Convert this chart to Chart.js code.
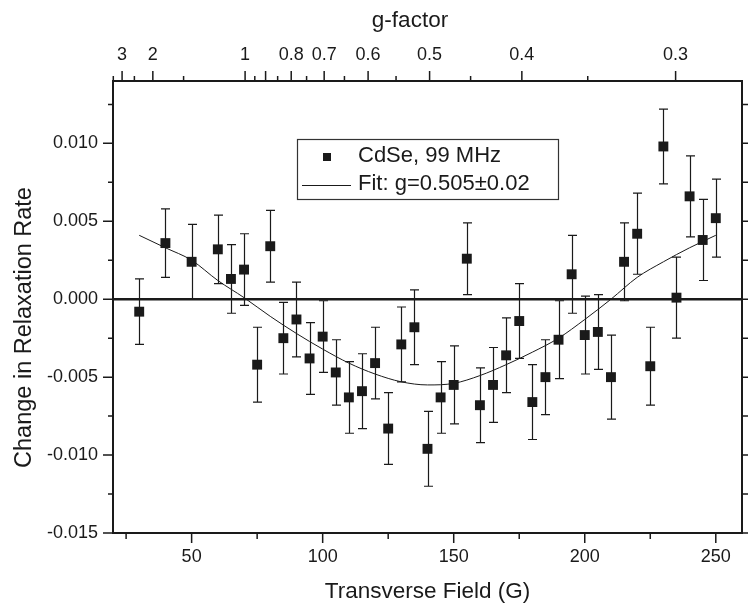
<!DOCTYPE html>
<html>
<head>
<meta charset="utf-8">
<script src="https://cdn.jsdelivr.net/npm/chart.js@4.4.0/dist/chart.umd.min.js"></script>
<style>
  html, body { margin: 0; padding: 0; background: #ffffff; }
  #wrap { width: 750px; height: 605px; }
</style>
</head>
<body>
<div id="wrap"><canvas id="c" width="750" height="605"></canvas></div>
<script>
// ---------------- data ----------------
const fieldG = [30, 40, 50, 60, 65, 70, 75, 80, 85, 90, 95, 100, 105, 110, 115, 120, 125, 130, 135, 140,
                145, 150, 155, 160, 165, 170, 175, 180, 185, 190, 195, 200, 205, 210, 215, 220, 225, 230,
                235, 240, 245, 250];
const rateChange = [-0.0008, 0.0036, 0.0024, 0.0032, 0.0013, 0.0019, -0.0042, 0.0034, -0.0025, -0.0013,
                    -0.0038, -0.0024, -0.0047, -0.0063, -0.0059, -0.0041, -0.0083, -0.0029, -0.0018, -0.0096,
                    -0.0063, -0.0055, 0.0026, -0.0068, -0.0055, -0.0036, -0.0014, -0.0066, -0.0050, -0.0026,
                    0.0016, -0.0023, -0.0021, -0.0050, 0.0024, 0.0042, -0.0043, 0.0098, 0.0001, 0.0066,
                    0.0038, 0.0052];
const rateError = [0.0021, 0.0022, 0.0024, 0.0022, 0.0022, 0.0023, 0.0024, 0.0023, 0.0023, 0.0024,
                   0.0023, 0.0023, 0.0021, 0.0023, 0.0024, 0.0023, 0.0023, 0.0024, 0.0024, 0.0024,
                   0.0023, 0.0025, 0.0023, 0.0024, 0.0024, 0.0024, 0.0024, 0.0024, 0.0024, 0.0025,
                   0.0025, 0.0025, 0.0024, 0.0027, 0.0025, 0.0026, 0.0025, 0.0024, 0.0026, 0.0026,
                   0.0026, 0.0025];
const fitField = [30, 40, 50, 60, 70, 80, 90, 100, 110, 120, 130, 140, 150, 160, 170, 180, 190, 200, 210, 220, 230, 240, 250];
const fitRate = [0.0041, 0.0033, 0.0025, 0.0012, 0.0001, -0.0011, -0.0022, -0.0032, -0.0041, -0.0048, -0.0053, -0.0055,
                 -0.0054, -0.0049, -0.0042, -0.0034, -0.0025, -0.0013, 0.0000, 0.0014, 0.0024, 0.0033, 0.0041];

const fieldTicks = [50, 100, 150, 200, 250];
const fieldMinorTicks = [25, 75, 125, 175, 225];
const rateTicks = [-0.015, -0.010, -0.005, 0.000, 0.005, 0.010];
const rateMinorTicks = [-0.0125, -0.0075, -0.0025, 0.0025, 0.0075, 0.0125];
const gMajorTicks = [3, 2, 1, 0.8, 0.7, 0.6, 0.5, 0.4, 0.3];
const gUnlabeledMajor = [0.9];
const gMinorTicks = [3.5, 2.5, 1.5, 0.95, 0.85, 0.75, 0.65, 0.55, 0.45, 0.35];
const gTimesField = 70.4; // g * B (gauss) for 99 MHz
const legendLabels = ['CdSe, 99 MHz', 'Fit: g=0.505\u00b10.02'];
const xTitle = 'Transverse Field (G)';
const yTitle = 'Change in Relaxation Rate';
const topTitle = 'g-factor';

// ---------------- styling ----------------
const FONT = "'Liberation Sans', Arial, Helvetica, sans-serif";
const INK = '#1a1a1a';
Chart.defaults.font.family = FONT;
Chart.defaults.color = INK;

const gToField = g => gTimesField / g;

const errorBars = {
  id: 'errorBars',
  beforeDatasetsDraw(chart) {
    const { ctx, scales: { x, y } } = chart;
    ctx.save();
    ctx.strokeStyle = INK;
    ctx.lineWidth = 1.2;
    fieldG.forEach((f, i) => {
      const px = Math.round(x.getPixelForValue(f)) + 0.5;
      const top = y.getPixelForValue(rateChange[i] + rateError[i]);
      const bot = y.getPixelForValue(rateChange[i] - rateError[i]);
      ctx.beginPath();
      ctx.moveTo(px, top); ctx.lineTo(px, bot);
      ctx.moveTo(px - 4.5, top); ctx.lineTo(px + 4.5, top);
      ctx.moveTo(px - 4.5, bot); ctx.lineTo(px + 4.5, bot);
      ctx.stroke();
    });
    ctx.restore();
  }
};

const frame = {
  id: 'frame',
  afterDatasetsDraw(chart) {
    const { ctx, chartArea: ca, scales: { x, y, xTop } } = chart;
    ctx.save();
    ctx.strokeStyle = INK;
    // zero line
    ctx.lineWidth = 2.5;
    const y0 = y.getPixelForValue(0);
    ctx.beginPath(); ctx.moveTo(ca.left, y0); ctx.lineTo(ca.right, y0); ctx.stroke();
    // frame
    ctx.lineWidth = 2;
    ctx.strokeRect(ca.left, ca.top, ca.right - ca.left, ca.bottom - ca.top);
    ctx.lineWidth = 1.5;
    ctx.beginPath();
    // bottom ticks
    fieldTicks.forEach(v => { const p = x.getPixelForValue(v); ctx.moveTo(p, ca.bottom); ctx.lineTo(p, ca.bottom + 10); });
    fieldMinorTicks.forEach(v => { const p = x.getPixelForValue(v); ctx.moveTo(p, ca.bottom); ctx.lineTo(p, ca.bottom + 6); });
    // left ticks
    rateTicks.forEach(v => { const p = y.getPixelForValue(v); ctx.moveTo(ca.left, p); ctx.lineTo(ca.left - 10, p); });
    rateMinorTicks.forEach(v => { const p = y.getPixelForValue(v); ctx.moveTo(ca.left, p); ctx.lineTo(ca.left - 5, p); });
    // right ticks
    rateTicks.concat(rateMinorTicks).forEach(v => { const p = y.getPixelForValue(v); ctx.moveTo(ca.right, p); ctx.lineTo(ca.right + 6, p); });
    // top ticks (g-factor)
    gMajorTicks.concat(gUnlabeledMajor).forEach(g => { const p = xTop.getPixelForValue(gToField(g)); ctx.moveTo(p, ca.top); ctx.lineTo(p, ca.top - 10); });
    gMinorTicks.forEach(g => { const p = xTop.getPixelForValue(gToField(g)); ctx.moveTo(p, ca.top); ctx.lineTo(p, ca.top - 5); });
    ctx.stroke();
    ctx.restore();
  }
};

const titles = {
  id: 'titles',
  afterDraw(chart) {
    const { ctx, chartArea: ca } = chart;
    ctx.save();
    ctx.fillStyle = INK;
    ctx.textBaseline = 'alphabetic';
    ctx.textAlign = 'center';
    // top axis title
    ctx.font = '22.5px ' + FONT;
    ctx.fillText(topTitle, ca.left + 297, 26.7);
    // left axis title (rotated)
    ctx.font = '23.5px ' + FONT;
    ctx.translate(30.5, ca.top + 246.5);
    ctx.rotate(-Math.PI / 2);
    ctx.fillText(yTitle, 0, 0);
    ctx.restore();
  }
};

const boxLegend = {
  id: 'boxLegend',
  afterDraw(chart) {
    const { ctx, chartArea: ca } = chart;
    const bx = ca.left + 184, by = ca.top + 58, bw = 261, bh = 60;
    ctx.save();
    ctx.fillStyle = '#ffffff';
    ctx.fillRect(bx, by, bw, bh);
    ctx.strokeStyle = '#333333';
    ctx.lineWidth = 1.2;
    ctx.strokeRect(bx + 0.5, by + 0.5, bw, bh);
    // marker
    ctx.fillStyle = INK;
    ctx.fillRect(ca.left + 214 - 4, ca.top + 76 - 4, 8, 8);
    // line
    ctx.strokeStyle = INK;
    ctx.lineWidth = 1;
    ctx.beginPath();
    ctx.moveTo(ca.left + 189, ca.top + 104.5);
    ctx.lineTo(ca.left + 238, ca.top + 104.5);
    ctx.stroke();
    // text
    ctx.font = '22px ' + FONT;
    ctx.textBaseline = 'middle';
    ctx.textAlign = 'left';
    ctx.fillText(legendLabels[0], ca.left + 245, ca.top + 75);
    ctx.fillText(legendLabels[1], ca.left + 245, ca.top + 103);
    ctx.restore();
  }
};

const tickFont = { size: 18, family: FONT };

new Chart(document.getElementById('c'), {
  type: 'scatter',
  data: {
    datasets: [
      {
        label: legendLabels[1],
        data: fitField.map((f, i) => ({ x: f, y: fitRate[i] })),
        showLine: true,
        borderColor: INK,
        borderWidth: 1,
        pointRadius: 0,
        cubicInterpolationMode: 'monotone',
        fill: false,
        order: 2
      },
      {
        label: legendLabels[0],
        data: fieldG.map((f, i) => ({ x: f, y: rateChange[i] })),
        pointStyle: 'rect',
        pointRadius: 7,
        pointBackgroundColor: INK,
        pointBorderColor: INK,
        pointBorderWidth: 0,
        showLine: false,
        order: 1
      }
    ]
  },
  options: {
    responsive: false,
    animation: false,
    devicePixelRatio: 1,
    layout: { padding: 0 },
    plugins: { legend: { display: false }, tooltip: { enabled: false } },
    scales: {
      x: {
        type: 'linear', position: 'bottom', min: 20, max: 260,
        afterBuildTicks: s => { s.ticks = fieldTicks.map(v => ({ value: v })); },
        afterFit: s => { s.height = 72; },
        grid: { display: false, drawTicks: false },
        border: { display: false },
        ticks: { font: tickFont, padding: 13, maxRotation: 0, autoSkip: false, color: INK,
                 callback: v => String(v) },
        title: { display: true, text: xTitle, font: { size: 22.5, family: FONT, lineHeight: 1.2 }, color: INK,
                 padding: { top: 0, bottom: 0 } }
      },
      xTop: {
        type: 'linear', position: 'top', min: 20, max: 260,
        afterBuildTicks: s => { s.ticks = gMajorTicks.map(g => ({ value: gToField(g) })); },
        afterFit: s => { s.height = 81; },
        grid: { display: false, drawTicks: false },
        border: { display: false },
        ticks: { font: tickFont, padding: 15, maxRotation: 0, autoSkip: false, color: INK,
                 callback: (v, i) => String(gMajorTicks[i]) }
      },
      y: {
        type: 'linear', position: 'left', min: -0.015, max: 0.014,
        afterBuildTicks: s => { s.ticks = rateTicks.map(v => ({ value: v })); },
        afterFit: s => { s.width = 113; },
        grid: { display: false, drawTicks: false },
        border: { display: false },
        ticks: { font: tickFont, padding: 15, autoSkip: false, color: INK,
                 callback: v => v.toFixed(3) }
      },
      y2: {
        type: 'linear', position: 'right', min: -0.015, max: 0.014,
        afterFit: s => { s.width = 8; },
        grid: { display: false, drawTicks: false },
        border: { display: false },
        ticks: { display: false }
      }
    }
  },
  plugins: [errorBars, frame, titles, boxLegend]
});
</script>
</body>
</html>
